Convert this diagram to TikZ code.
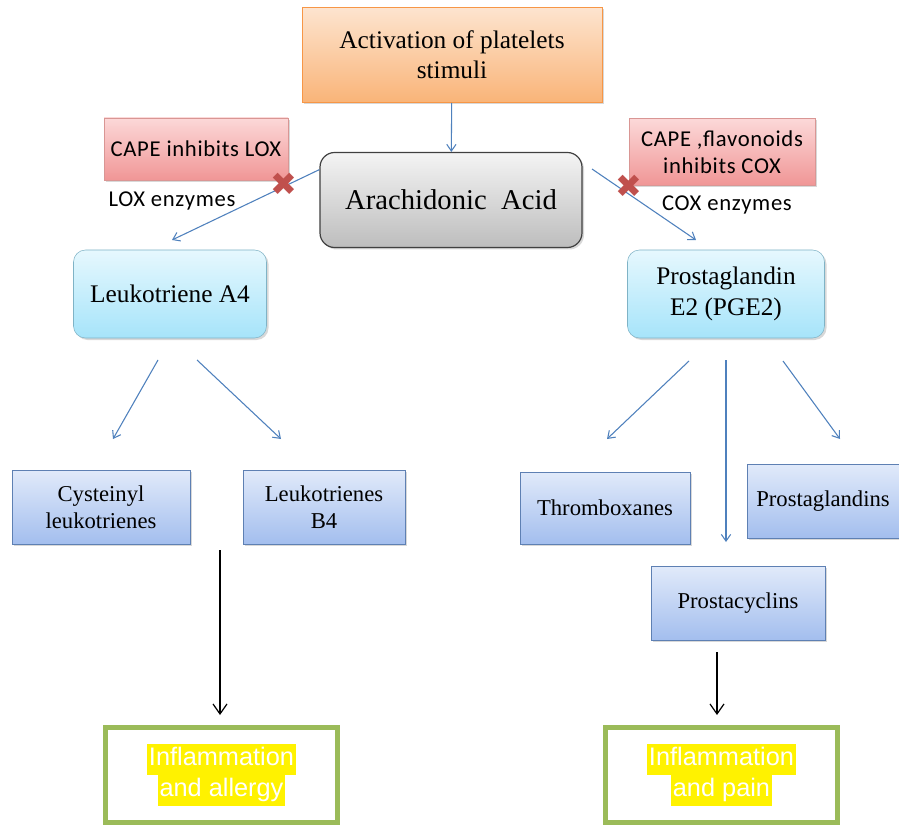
\documentclass[tikz,border=0pt]{standalone}
\usepackage{fontspec}
\setmainfont{Liberation Serif}
\newfontfamily\calfont[LetterSpace=3]{Carlito}
\newfontfamily\arialfont{Liberation Sans}
\newfontfamily\symfont{DejaVu Sans}
\usetikzlibrary{arrows.meta,shadows}

\definecolor{orangeTop}{HTML}{FDE4CF}
\definecolor{orangeBot}{HTML}{F9B478}
\definecolor{orangeLine}{HTML}{F79646}
\definecolor{grayTop}{HTML}{F4F4F4}
\definecolor{grayBot}{HTML}{BDBDBD}
\definecolor{pinkTop}{HTML}{FCD8D8}
\definecolor{pinkBot}{HTML}{F09696}
\definecolor{pinkLine}{HTML}{D99694}
\definecolor{cyanTop}{HTML}{E6F8FE}
\definecolor{cyanBot}{HTML}{A6E4FA}
\definecolor{cyanLine}{HTML}{7FB3C6}
\definecolor{blueTop}{HTML}{E1EAFA}
\definecolor{blueBot}{HTML}{A3BEEE}
\definecolor{blueLine}{HTML}{5E80B3}
\definecolor{arrowBlue}{HTML}{4F81BD}
\definecolor{endGreen}{HTML}{9BBB59}
\definecolor{crossRed}{HTML}{C0504D}

\newcommand{\hilite}[1]{{\setlength{\fboxsep}{0pt}\colorbox{yellow}{\kern1.5pt\strut#1\kern1.5pt}}}

\begin{document}
\begin{tikzpicture}[x=0.75pt,y=-0.75pt,
    shadowed/.style={drop shadow={opacity=0.3,shadow xshift=1.5pt,shadow yshift=-1.5pt}},
    startbox/.style={shadowed,draw=orangeLine,top color=orangeTop,bottom color=orangeBot,
      align=center,minimum width=225pt,minimum height=71.25pt,
      font=\fontsize{19}{22.5}\selectfont},
    acidbox/.style={shadowed,draw=black!75,line width=0.9pt,rounded corners=11pt,
      top color=grayTop,bottom color=grayBot,minimum width=196.5pt,minimum height=71.25pt,
      font=\fontsize{21.5}{26}\selectfont},
    capebox/.style={shadowed,draw=pinkLine,top color=pinkTop,bottom color=pinkBot,
      align=center,font=\calfont\fontsize{17}{20}\selectfont},
    enzlabel/.style={font=\calfont\fontsize{17}{20}\selectfont},
    enzbox/.style={shadowed,draw=cyanLine,rounded corners=9pt,top color=cyanTop,
      bottom color=cyanBot,align=center,minimum height=66pt,
      font=\fontsize{19}{23}\selectfont},
    prodbox/.style={shadowed,draw=blueLine,top color=blueTop,bottom color=blueBot,
      align=center,minimum height=55.5pt,font=\fontsize{17}{20}\selectfont},
    endbox/.style={draw=endGreen,line width=3.75pt,fill=white,align=center,
      minimum width=174pt,minimum height=71.25pt,text=white,
      font=\arialfont\fontsize{19}{23}\selectfont},
    xmark/.style={text=crossRed,font=\symfont\fontsize{24}{24}\selectfont,inner sep=0pt},
    flow/.style={arrowBlue,line width=0.8pt,-{Straight Barb[length=5pt,width=7pt]}},
    result/.style={black,line width=0.9pt,-{Straight Barb[length=7.5pt,width=10.5pt]}}]

  \useasboundingbox[fill=white] (0,0) rectangle (899,827);

  % top of the pathway
  \node[startbox] (stim) at (452,55) {Activation of platelets\\stimuli};
  \node[acidbox] (acid) at (451,200) {Arachidonic\ \ Acid};

  % inhibitors and enzymes
  \node[capebox,minimum width=138pt,minimum height=46.5pt] (loxcape) at (196,149) {CAPE inhibits LOX};
  \node[capebox,minimum width=139.5pt,minimum height=50.25pt] (coxcape) at (722,152) {CAPE ,flavonoids\\inhibits COX};
  \node[enzlabel] (loxenz) at (172,201) {LOX enzymes};
  \node[enzlabel] (coxenz) at (727,205) {COX enzymes};

  \node[enzbox,minimum width=144.75pt] (ltA4) at (170,294) {Leukotriene A4};
  \node[enzbox,minimum width=147.75pt] (pge2) at (726,294) {Prostaglandin\\E2 (PGE2)};

  % products
  \node[prodbox,minimum width=133.5pt] (cys) at (101,507) {Cysteinyl\\leukotrienes};
  \node[prodbox,minimum width=121.5pt] (ltB4) at (324,507) {Leukotrienes\\B4};
  \node[prodbox,minimum width=127.5pt,minimum height=54pt] (thromb) at (605,508) {Thromboxanes};
  \node[prodbox,minimum width=114pt] (pglands) at (823,501) {Prostaglandins};
  \node[prodbox,minimum width=130.5pt] (pcyc) at (738,603) {Prostacyclins};

  % outcomes
  \node[endbox] (allergy) at (221.5,775) {\hilite{Inflammation}\\\hilite{and allergy}};
  \node[endbox] (pain) at (721.5,775) {\hilite{Inflammation}\\\hilite{and pain}};

  % free arrow ends
  \coordinate (loxto) at (172,240);
  \coordinate (coxfrom) at (592,169);
  \coordinate (coxto) at (696,240);
  \coordinate (a4left) at (158,360);
  \coordinate (cysto) at (113,439);
  \coordinate (a4right) at (197,360);
  \coordinate (b4to) at (281,439);
  \coordinate (e2left) at (689,361);
  \coordinate (thrto) at (607,439);
  \coordinate (e2mid) at (726,360);
  \coordinate (cycto) at (726,542);
  \coordinate (e2right) at (783,361);
  \coordinate (glto) at (840,439);
  \coordinate (allfrom) at (220,550);
  \coordinate (allto) at (220,715);
  \coordinate (painfrom) at (717,652);
  \coordinate (painto) at (717,715);

  \path[flow]
    (stim) edge (acid)
    (acid.167) edge (loxto)
    (coxfrom) edge (coxto)
    (a4left) edge (cysto)
    (a4right) edge (b4to)
    (e2left) edge (thrto)
    (e2mid) edge (cycto)
    (e2right) edge (glto);

  \path[result]
    (allfrom) edge (allto)
    (painfrom) edge (painto);

  % blocked steps
  \node[xmark] (loxx) at (284,184) {✖};
  \node[xmark] (coxx) at (629,186) {✖};
\end{tikzpicture}
\end{document}
